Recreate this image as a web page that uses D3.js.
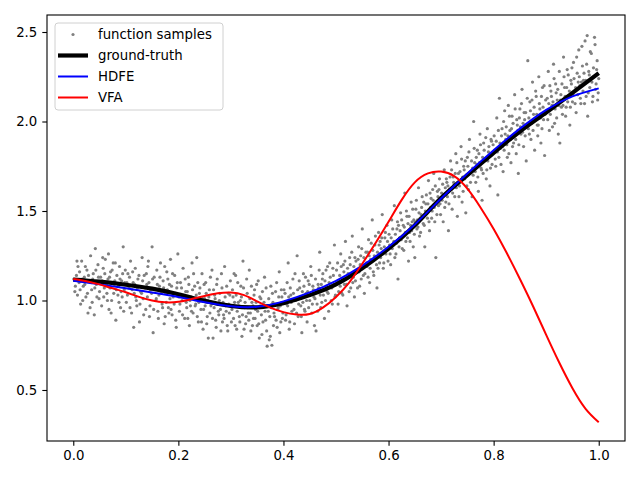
<!DOCTYPE html>
<html>
<head>
<meta charset="utf-8">
<script src="https://cdn.jsdelivr.net/npm/d3@7"></script>
<style>
	body { margin: 0; background: #fff; }
	text { font-family: "DejaVu Sans", sans-serif; }
</style>
</head>
<body>
<svg id="chart" width="640" height="480"></svg>
<script>
// noisy samples, [x, y]
var samples = [
	[0.003,1.05],[0.006,1.14],[0.009,1.19],[0.011,1.10],[0.014,0.98],[0.016,1.22],[0.019,1.08],[0.021,1.13],[0.024,1.02],[0.026,1.17],[0.028,0.93],[0.031,1.11],[0.033,1.25],[0.035,1.06],[0.038,1.15],[0.040,0.92],[0.042,1.29],[0.044,1.09],[0.047,1.20],[0.049,1.01],[0.052,1.13],[0.054,0.97],[0.057,1.18],[0.059,1.07],[0.061,1.23],[0.064,1.04],[0.066,1.12],[0.068,0.95],[0.071,1.16],[0.073,1.00],[0.076,1.21],[0.078,1.09],[0.081,0.89],[0.083,1.14],[0.085,1.03],[0.088,1.19],[0.090,0.96],[0.092,1.11],[0.095,1.30],[0.097,1.06],[0.099,1.17],[0.018,1.00],[0.045,1.02],[0.067,1.26],[0.086,1.08],
	[0.101,0.99],[0.104,1.15],[0.106,1.07],[0.109,1.22],[0.111,0.93],[0.114,1.10],[0.116,1.04],[0.118,1.18],[0.121,0.97],[0.123,1.12],[0.126,0.88],[0.128,1.05],[0.131,1.24],[0.133,1.01],[0.135,1.14],[0.138,0.95],[0.140,1.09],[0.142,1.19],[0.145,0.91],[0.147,1.06],[0.150,1.30],[0.152,0.82],[0.154,1.13],[0.157,1.00],[0.159,1.17],[0.161,0.94],[0.164,1.08],[0.166,1.21],[0.169,0.98],[0.171,1.11],[0.173,0.87],[0.176,1.04],[0.178,1.16],[0.181,0.96],[0.183,1.09],[0.185,1.23],[0.188,0.92],[0.190,1.02],[0.193,1.14],[0.195,0.89],[0.197,1.07],[0.199,1.26],[0.119,1.02],[0.163,1.03],[0.182,0.93],
	[0.202,0.94],[0.204,1.10],[0.207,1.00],[0.209,1.18],[0.212,0.90],[0.214,1.05],[0.216,0.96],[0.219,1.13],[0.221,0.86],[0.224,1.02],[0.226,1.21],[0.228,0.93],[0.231,1.08],[0.233,0.98],[0.235,1.24],[0.238,0.88],[0.240,1.04],[0.243,0.95],[0.245,1.15],[0.247,0.84],[0.250,1.01],[0.252,1.10],[0.255,0.91],[0.257,0.79],[0.259,1.06],[0.262,0.97],[0.264,1.17],[0.266,0.79],[0.269,1.03],[0.271,0.89],[0.274,1.12],[0.276,0.94],[0.278,1.00],[0.281,0.83],[0.283,1.07],[0.286,0.92],[0.288,1.19],[0.290,0.97],[0.293,0.86],[0.295,1.04],[0.297,0.93],[0.299,1.11],[0.223,0.97],[0.256,1.00],[0.284,0.88],
	[0.301,0.88],[0.304,1.02],[0.306,1.15],[0.309,1.14],[0.311,0.84],[0.314,0.99],[0.316,0.91],[0.319,1.08],[0.321,0.80],[0.323,1.22],[0.326,0.96],[0.328,0.87],[0.331,1.04],[0.333,0.93],[0.335,1.17],[0.338,0.83],[0.340,0.99],[0.343,0.90],[0.345,1.06],[0.347,0.95],[0.350,0.86],[0.352,1.11],[0.354,0.79],[0.357,1.01],[0.359,0.81],[0.362,0.97],[0.364,1.13],[0.366,0.89],[0.369,0.745],[0.371,0.94],[0.373,0.78],[0.376,1.08],[0.378,0.75],[0.380,0.99],[0.383,0.91],[0.385,1.05],[0.388,0.85],[0.390,0.96],[0.392,1.16],[0.395,0.88],[0.397,1.02],[0.399,0.93],[0.318,1.00],[0.356,0.97],[0.381,0.86],
	[0.401,1.06],[0.404,0.89],[0.406,0.98],[0.409,1.21],[0.411,0.84],[0.414,1.03],[0.416,0.94],[0.418,1.12],[0.421,0.87],[0.423,1.00],[0.426,1.25],[0.428,0.91],[0.431,1.07],[0.433,0.97],[0.435,0.82],[0.438,1.15],[0.440,0.95],[0.443,1.04],[0.445,0.88],[0.447,1.11],[0.450,1.00],[0.452,1.19],[0.454,0.93],[0.457,1.06],[0.459,0.86],[0.462,0.83],[0.464,0.98],[0.466,1.09],[0.469,1.27],[0.471,0.96],[0.474,1.12],[0.476,1.03],[0.478,0.90],[0.481,1.17],[0.483,1.05],[0.486,0.94],[0.488,1.21],[0.490,1.08],[0.493,0.98],[0.495,1.14],[0.497,1.31],[0.499,1.03],[0.417,1.00],[0.458,1.02],[0.487,1.10],
	[0.501,1.17],[0.504,0.98],[0.506,1.11],[0.509,1.26],[0.511,1.04],[0.514,1.20],[0.516,1.09],[0.518,1.33],[0.521,0.97],[0.523,1.15],[0.526,1.24],[0.528,1.07],[0.531,1.36],[0.533,1.13],[0.535,1.02],[0.538,1.22],[0.540,1.17],[0.543,1.30],[0.545,1.08],[0.547,1.25],[0.550,1.40],[0.552,1.14],[0.554,1.04],[0.557,1.27],[0.559,1.19],[0.562,1.34],[0.564,1.10],[0.566,1.23],[0.569,1.45],[0.571,1.16],[0.574,1.31],[0.576,1.24],[0.578,1.07],[0.581,1.38],[0.583,1.21],[0.586,1.29],[0.588,1.48],[0.590,1.18],[0.593,1.35],[0.595,1.26],[0.597,1.42],[0.599,1.22],[0.519,1.12],[0.556,1.20],[0.584,1.33],
	[0.601,1.37],[0.604,1.20],[0.606,1.45],[0.609,1.31],[0.611,1.53],[0.614,1.26],[0.616,1.40],[0.618,1.12],[0.621,1.35],[0.623,1.49],[0.626,1.29],[0.628,1.42],[0.631,1.60],[0.633,1.33],[0.635,1.47],[0.638,1.22],[0.640,1.38],[0.643,1.55],[0.645,1.44],[0.647,1.30],[0.650,1.24],[0.652,1.51],[0.654,1.40],[0.657,1.63],[0.659,1.36],[0.662,1.48],[0.664,1.58],[0.666,1.43],[0.669,1.30],[0.671,1.54],[0.674,1.46],[0.676,1.67],[0.678,1.39],[0.681,1.57],[0.683,1.50],[0.686,1.71],[0.688,1.44],[0.690,1.24],[0.693,1.61],[0.695,1.53],[0.697,1.68],[0.699,1.48],[0.619,1.42],[0.655,1.45],[0.684,1.62],
	[0.701,1.60],[0.704,1.44],[0.706,1.73],[0.709,1.55],[0.711,1.66],[0.714,1.39],[0.716,1.62],[0.718,1.78],[0.721,1.51],[0.723,1.69],[0.726,1.58],[0.728,1.82],[0.731,1.47],[0.733,1.71],[0.735,1.64],[0.738,1.86],[0.740,1.55],[0.743,1.75],[0.745,1.68],[0.747,1.49],[0.750,1.80],[0.752,1.62],[0.754,1.90],[0.757,1.72],[0.759,1.58],[0.762,2.00],[0.764,1.77],[0.766,1.66],[0.769,1.84],[0.771,1.61],[0.774,1.93],[0.776,1.74],[0.778,1.56],[0.781,1.88],[0.783,1.79],[0.786,1.68],[0.788,1.96],[0.790,1.83],[0.793,1.64],[0.795,1.90],[0.797,1.76],[0.799,1.87],[0.725,1.65],[0.761,1.70],[0.787,1.73],
	[0.801,1.92],[0.804,1.75],[0.806,2.02],[0.808,1.59],[0.811,2.13],[0.813,1.85],[0.816,1.96],[0.818,1.72],[0.821,2.06],[0.823,1.90],[0.826,1.80],[0.828,2.09],[0.831,1.95],[0.833,1.77],[0.835,2.03],[0.838,1.88],[0.840,2.15],[0.843,1.82],[0.845,1.98],[0.847,1.71],[0.850,2.07],[0.852,1.93],[0.854,2.18],[0.857,1.86],[0.859,2.01],[0.862,1.78],[0.865,2.34],[0.866,1.96],[0.869,2.11],[0.871,1.90],[0.874,2.22],[0.876,2.04],[0.878,1.84],[0.881,2.14],[0.883,1.98],[0.886,2.25],[0.888,2.07],[0.890,1.88],[0.893,2.19],[0.895,2.01],[0.897,1.81],[0.899,2.12],[0.822,1.93],[0.858,2.05],[0.884,1.92],
	[0.901,2.06],[0.904,2.28],[0.906,1.95],[0.909,2.17],[0.911,2.09],[0.914,2.32],[0.916,1.99],[0.918,2.21],[0.921,2.12],[0.923,1.93],[0.926,1.88],[0.928,2.15],[0.931,2.04],[0.933,2.36],[0.935,2.19],[0.938,2.08],[0.940,2.29],[0.943,2.14],[0.945,1.98],[0.947,2.23],[0.950,2.11],[0.952,2.33],[0.954,2.17],[0.957,2.05],[0.959,2.27],[0.962,2.40],[0.964,2.20],[0.966,2.10],[0.969,2.31],[0.971,2.23],[0.974,2.45],[0.976,2.14],[0.978,2.48],[0.981,2.28],[0.983,2.19],[0.986,2.38],[0.988,2.11],[0.990,2.30],[0.993,2.43],[0.995,2.21],[0.997,2.34],[0.999,2.16],[0.929,2.08],[0.961,2.22],[0.979,2.03],
	// denser band close to the curve
	[0.001,1.12],[0.004,1.08],[0.008,1.03],[0.012,1.16],[0.013,1.06],[0.017,1.12],[0.022,1.09],[0.023,1.19],[0.027,1.04],[0.029,1.14],[0.034,1.10],[0.036,0.99],[0.037,1.12],[0.041,1.07],[0.043,1.17],[0.048,1.13],[0.050,1.05],[0.053,1.10],[0.056,1.24],[0.058,1.02],[0.060,1.15],[0.063,1.09],[0.065,1.00],[0.069,1.13],[0.070,1.07],[0.074,1.17],[0.077,1.04],[0.079,1.11],[0.080,1.21],[0.082,1.06],[0.087,0.99],[0.089,1.12],[0.091,1.05],[0.094,1.15],[0.096,0.94],[0.098,1.10],[0.007,1.22],[0.032,0.96],[0.055,1.11],[0.072,0.93],[0.093,1.02],
	[0.102,1.10],[0.103,1.03],[0.107,1.13],[0.108,0.96],[0.112,1.06],[0.113,1.16],[0.117,1.09],[0.120,1.00],[0.122,1.07],[0.125,1.14],[0.127,0.98],[0.130,1.04],[0.132,1.11],[0.134,0.92],[0.137,1.07],[0.139,1.15],[0.141,1.02],[0.144,1.10],[0.146,0.97],[0.149,1.04],[0.151,1.12],[0.153,0.95],[0.156,1.06],[0.158,1.01],[0.160,1.09],[0.162,0.90],[0.165,1.13],[0.167,1.04],[0.170,0.96],[0.172,1.07],[0.174,1.19],[0.177,0.99],[0.179,1.06],[0.180,1.12],[0.184,1.01],[0.186,0.95],[0.187,1.08],[0.189,1.15],[0.192,0.98],[0.194,1.04],[0.196,0.85],[0.198,1.10],[0.115,0.85],[0.143,1.22],[0.175,0.91],
	[0.201,1.02],[0.203,0.98],[0.206,1.07],[0.208,0.92],[0.210,1.03],[0.213,1.12],[0.215,0.99],[0.217,1.05],[0.218,0.90],[0.220,1.09],[0.222,1.00],[0.225,0.94],[0.227,1.06],[0.229,1.15],[0.232,0.97],[0.234,1.03],[0.236,0.91],[0.237,1.10],[0.239,0.99],[0.241,1.07],[0.244,0.88],[0.246,1.01],[0.248,0.95],[0.249,1.09],[0.251,0.97],[0.253,1.04],[0.254,0.87],[0.258,1.02],[0.260,0.93],[0.261,1.13],[0.263,0.99],[0.265,0.90],[0.267,1.06],[0.268,0.96],[0.270,1.01],[0.272,0.85],[0.273,1.09],[0.275,0.98],[0.277,0.92],[0.279,1.04],[0.280,0.95],[0.282,1.15],[0.285,0.99],[0.287,0.90],[0.289,1.02],[0.291,0.94],[0.292,1.08],[0.294,0.83],[0.296,0.98],[0.298,1.03],
	[0.302,0.95],[0.303,1.06],[0.305,0.90],[0.307,0.99],[0.308,0.86],[0.310,1.03],[0.312,0.94],[0.313,1.10],[0.315,0.97],[0.317,0.88],[0.320,1.02],[0.322,0.92],[0.324,1.07],[0.325,0.84],[0.327,0.99],[0.329,0.91],[0.330,1.12],[0.332,0.96],[0.334,0.89],[0.336,1.01],[0.337,0.93],[0.339,1.08],[0.341,0.86],[0.342,0.97],[0.344,1.03],[0.346,0.90],[0.348,0.99],[0.349,1.09],[0.351,0.94],[0.353,0.87],[0.355,1.02],[0.358,0.92],[0.360,1.05],[0.361,0.88],[0.363,0.99],[0.365,0.94],[0.367,1.07],[0.368,0.83],[0.370,0.97],[0.372,1.01],[0.374,0.91],[0.375,0.80],[0.377,0.96],[0.379,1.04],[0.382,0.93],[0.384,0.98],[0.386,0.89],[0.387,1.10],[0.389,0.95],[0.391,1.02],[0.393,0.82],[0.394,0.97],[0.396,1.06],[0.398,0.90],
	[0.402,0.99],[0.403,1.04],[0.405,0.92],[0.407,1.10],[0.408,0.97],[0.410,1.02],[0.412,0.88],[0.413,1.07],[0.415,0.99],[0.419,1.04],[0.420,0.95],[0.422,1.15],[0.424,1.01],[0.425,0.93],[0.427,1.06],[0.429,0.98],[0.430,1.11],[0.432,1.02],[0.434,0.91],[0.436,1.05],[0.437,0.99],[0.439,1.08],[0.441,0.94],[0.442,1.13],[0.444,1.00],[0.446,1.05],[0.448,0.96],[0.449,1.09],[0.451,1.03],[0.453,1.14],[0.455,0.98],[0.456,1.08],[0.460,1.01],[0.461,1.12],[0.463,1.05],[0.465,0.94],[0.467,1.07],[0.468,1.17],[0.470,1.03],[0.472,1.09],[0.473,0.99],[0.475,1.15],[0.477,1.06],[0.479,1.11],[0.480,1.00],[0.482,1.08],[0.484,1.19],[0.485,1.04],[0.489,1.13],[0.491,1.00],[0.492,1.07],[0.494,1.18],[0.496,1.09],[0.498,1.02],
	[0.502,1.10],[0.503,1.21],[0.505,1.05],[0.507,1.14],[0.508,1.08],[0.510,1.19],[0.512,1.12],[0.513,1.03],[0.515,1.16],[0.517,1.22],[0.520,1.09],[0.522,1.18],[0.524,1.13],[0.525,1.05],[0.527,1.20],[0.529,1.15],[0.530,1.27],[0.532,1.10],[0.534,1.19],[0.536,1.24],[0.537,1.11],[0.539,1.17],[0.541,1.07],[0.542,1.23],[0.544,1.16],[0.546,1.20],[0.548,1.12],[0.549,1.29],[0.551,1.19],[0.553,1.24],[0.555,1.15],[0.558,1.21],[0.560,1.27],[0.561,1.13],[0.563,1.25],[0.565,1.18],[0.567,1.32],[0.568,1.22],[0.570,1.28],[0.572,1.14],[0.573,1.25],[0.575,1.36],[0.577,1.20],[0.579,1.27],[0.580,1.18],[0.582,1.31],[0.585,1.24],[0.587,1.35],[0.589,1.26],[0.591,1.21],[0.592,1.30],[0.594,1.38],[0.596,1.28],[0.598,1.33],
	[0.602,1.31],[0.603,1.26],[0.605,1.35],[0.607,1.29],[0.608,1.40],[0.610,1.33],[0.612,1.24],[0.613,1.37],[0.615,1.32],[0.617,1.44],[0.620,1.30],[0.622,1.39],[0.624,1.34],[0.625,1.45],[0.627,1.36],[0.629,1.28],[0.630,1.41],[0.632,1.38],[0.634,1.50],[0.636,1.35],[0.637,1.43],[0.639,1.47],[0.641,1.33],[0.642,1.42],[0.644,1.39],[0.646,1.51],[0.648,1.45],[0.649,1.37],[0.651,1.44],[0.653,1.56],[0.656,1.41],[0.658,1.49],[0.660,1.46],[0.661,1.38],[0.663,1.52],[0.665,1.47],[0.667,1.55],[0.668,1.42],[0.670,1.50],[0.672,1.59],[0.673,1.49],[0.675,1.54],[0.677,1.44],[0.679,1.60],[0.680,1.52],[0.682,1.46],[0.685,1.56],[0.687,1.52],[0.689,1.64],[0.691,1.55],[0.692,1.48],[0.694,1.58],[0.696,1.62],[0.698,1.54],
	[0.702,1.56],[0.703,1.65],[0.705,1.59],[0.707,1.52],[0.708,1.63],[0.710,1.68],[0.712,1.58],[0.713,1.64],[0.715,1.54],[0.717,1.69],[0.719,1.62],[0.720,1.73],[0.722,1.60],[0.724,1.66],[0.727,1.71],[0.729,1.63],[0.730,1.77],[0.732,1.66],[0.734,1.58],[0.736,1.72],[0.737,1.67],[0.739,1.79],[0.741,1.69],[0.742,1.61],[0.744,1.73],[0.746,1.78],[0.748,1.70],[0.749,1.64],[0.751,1.75],[0.753,1.83],[0.755,1.71],[0.756,1.66],[0.758,1.78],[0.760,1.74],[0.763,1.85],[0.765,1.72],[0.767,1.80],[0.768,1.76],[0.770,1.69],[0.772,1.82],[0.773,1.77],[0.775,1.87],[0.777,1.73],[0.779,1.80],[0.780,1.71],[0.782,1.84],[0.784,1.79],[0.785,1.91],[0.789,1.78],[0.791,1.86],[0.792,1.81],[0.794,1.74],[0.796,1.89],[0.798,1.82],
	[0.802,1.84],[0.803,1.79],[0.805,1.89],[0.807,1.83],[0.809,1.95],[0.810,1.80],[0.812,1.88],[0.814,1.76],[0.815,1.92],[0.817,1.86],[0.819,2.00],[0.820,1.84],[0.824,1.97],[0.825,1.87],[0.827,1.92],[0.829,1.82],[0.830,2.03],[0.832,1.90],[0.834,1.96],[0.836,1.86],[0.837,1.99],[0.839,1.93],[0.841,2.07],[0.842,1.90],[0.844,2.01],[0.846,1.95],[0.848,1.87],[0.849,2.02],[0.851,1.97],[0.853,2.10],[0.855,1.94],[0.856,1.99],[0.860,1.92],[0.861,2.05],[0.863,1.97],[0.864,2.13],[0.867,2.02],[0.868,1.93],[0.870,2.06],[0.872,1.99],[0.873,2.12],[0.875,1.95],[0.877,2.08],[0.879,2.01],[0.880,2.17],[0.882,2.04],[0.885,1.98],[0.887,2.10],[0.889,2.02],[0.891,2.14],[0.892,1.96],[0.894,2.08],[0.896,2.20],[0.898,2.04],
	[0.902,2.13],[0.903,2.01],[0.905,2.10],[0.907,2.20],[0.908,2.04],[0.910,2.14],[0.912,1.97],[0.913,2.11],[0.915,2.24],[0.917,2.07],[0.919,2.16],[0.920,2.02],[0.922,2.18],[0.924,2.09],[0.925,2.28],[0.927,2.12],[0.930,2.21],[0.932,2.09],[0.934,2.25],[0.936,2.14],[0.937,2.03],[0.939,2.19],[0.941,2.11],[0.942,2.26],[0.944,2.17],[0.946,2.08],[0.948,2.21],[0.949,2.30],[0.951,2.15],[0.953,2.24],[0.955,2.10],[0.956,2.19],[0.958,2.36],[0.960,2.15],[0.963,2.25],[0.965,2.13],[0.967,2.22],[0.968,2.42],[0.970,2.17],[0.972,2.27],[0.973,2.10],[0.975,2.23],[0.977,2.32],[0.980,2.16],[0.982,2.26],[0.984,2.39],[0.987,2.22],[0.989,2.14],[0.991,2.25],[0.992,2.47],[0.994,2.18],[0.996,2.29],[0.998,2.12],[1.000,2.24]
];

var curveX = [0, 0.05, 0.1, 0.15, 0.2, 0.25, 0.3, 0.35, 0.4, 0.45, 0.5, 0.55, 0.6, 0.65, 0.7, 0.75, 0.8, 0.85, 0.9, 0.95, 1.0];
var groundTruth = [1.117, 1.105, 1.088, 1.066, 1.035, 0.998, 0.970, 0.962, 0.985, 1.030, 1.090, 1.180, 1.290, 1.420, 1.572, 1.700, 1.825, 1.944, 2.050, 2.160, 2.270];
var hdfe = [1.110, 1.090, 1.068, 1.045, 1.020, 0.990, 0.968, 0.965, 0.995, 1.045, 1.110, 1.195, 1.300, 1.425, 1.570, 1.710, 1.840, 1.960, 2.065, 2.140, 2.185];

var vfaX = [0, 0.025, 0.05, 0.075, 0.1, 0.125, 0.15, 0.175, 0.2, 0.225, 0.25, 0.275, 0.3, 0.325, 0.35, 0.375, 0.4, 0.425, 0.45, 0.475, 0.5, 0.525, 0.55, 0.575, 0.6, 0.625, 0.65, 0.675, 0.7, 0.725, 0.75, 0.775, 0.8, 0.825, 0.85, 0.875, 0.9, 0.925, 0.95, 0.975, 1.0];
var vfa = [1.120, 1.108, 1.090, 1.068, 1.046, 1.020, 1.000, 0.990, 0.993, 1.008, 1.025, 1.040, 1.045, 1.030, 0.995, 0.960, 0.935, 0.922, 0.925, 0.960, 1.020, 1.100, 1.205, 1.320, 1.440, 1.562, 1.660, 1.710, 1.720, 1.695, 1.625, 1.520, 1.400, 1.265, 1.120, 0.968, 0.808, 0.652, 0.510, 0.395, 0.320];

var xTicks = [0.0, 0.2, 0.4, 0.6, 0.8, 1.0];
var yTicks = [0.5, 1.0, 1.5, 2.0, 2.5];
var legendNames = ["function samples", "ground-truth", "HDFE", "VFA"];

(function(){

	var margin = {top: 15, right: 15, bottom: 39, left: 47};
	var svg = d3.select("#chart");
	var width = +svg.attr("width") - margin.left - margin.right;
	var height = +svg.attr("height") - margin.top - margin.bottom;

	var g = svg.append("g")
		.attr("transform", "translate(" + margin.left + "," + margin.top + ")");

	var x = d3.scaleLinear().domain([-0.05, 1.05]).range([0, width]);
	var y = d3.scaleLinear().domain([0.215, 2.595]).range([height, 0]);

	// samples
	g.append("g")
		.selectAll("circle")
		.data(samples)
		.enter().append("circle")
			.attr("cx", function(d){ return x(d[0]); })
			.attr("cy", function(d){ return y(d[1]); })
			.attr("r", 1.6)
			.attr("fill", "#808080");

	function pts(xs, ys){
		var out = [];
		for(var i = 0; i < xs.length; i++){
			out.push([xs[i], ys[i]]);
		}
		return out;
	}

	var line = d3.line()
		.x(function(d){ return x(d[0]); })
		.y(function(d){ return y(d[1]); })
		.curve(d3.curveNatural);

	var series = [
		{data: pts(curveX, groundTruth), color: "#000000", w: 4.2},
		{data: pts(curveX, hdfe), color: "#0000ff", w: 2},
		{data: pts(vfaX, vfa), color: "#ff0000", w: 2}
	];

	g.selectAll(".series")
		.data(series)
		.enter().append("path")
			.attr("class", "series")
			.attr("d", function(d){ return line(d.data); })
			.attr("fill", "none")
			.attr("stroke", function(d){ return d.color; })
			.attr("stroke-width", function(d){ return d.w; })
			.attr("stroke-linejoin", "round")
			.attr("stroke-linecap", "butt");

	// axes
	var xAxis = g.append("g")
		.attr("transform", "translate(0," + height + ")")
		.call(d3.axisBottom(x).tickValues(xTicks).tickFormat(d3.format(".1f")).tickSizeOuter(0).tickSize(4.7).tickPadding(5));
	var yAxis = g.append("g")
		.call(d3.axisLeft(y).tickValues(yTicks).tickFormat(d3.format(".1f")).tickSizeOuter(0).tickSize(4.7).tickPadding(5));

	[xAxis, yAxis].forEach(function(a){
		a.select(".domain").remove();
		a.selectAll("text").attr("font-size", "13.3px").attr("fill", "#000").attr("font-family", "DejaVu Sans");
		a.selectAll("line").attr("stroke", "#000").attr("stroke-width", 1.1);
	});

	g.append("rect")
		.attr("width", width)
		.attr("height", height)
		.attr("fill", "none")
		.attr("stroke", "#000")
		.attr("stroke-width", 1.1);

	// legend
	var legend = svg.append("g").attr("transform", "translate(55,23)");
	legend.append("rect")
		.attr("width", 168)
		.attr("height", 87)
		.attr("rx", 3)
		.attr("fill", "#fff")
		.attr("fill-opacity", 0.8)
		.attr("stroke", "#d0d0d0")
		.attr("stroke-width", 1);

	var rows = legend.selectAll(".row")
		.data(legendNames)
		.enter().append("g")
			.attr("class", "row")
			.attr("transform", function(d, i){ return "translate(0," + (11.5 + i * 21) + ")"; });

	rows.each(function(d, i){
		var r = d3.select(this);
		if(i === 0){
			r.append("circle").attr("cx", 18).attr("cy", 0).attr("r", 1.6).attr("fill", "#808080");
		} else {
			r.append("line")
				.attr("x1", 3).attr("x2", 33)
				.attr("stroke", series[i - 1].color)
				.attr("stroke-width", series[i - 1].w);
		}
		r.append("text")
			.attr("x", 43)
			.attr("dy", "0.35em")
			.attr("font-size", "13.3px")
			.text(d);
	});

})();
</script>
</body>
</html>
